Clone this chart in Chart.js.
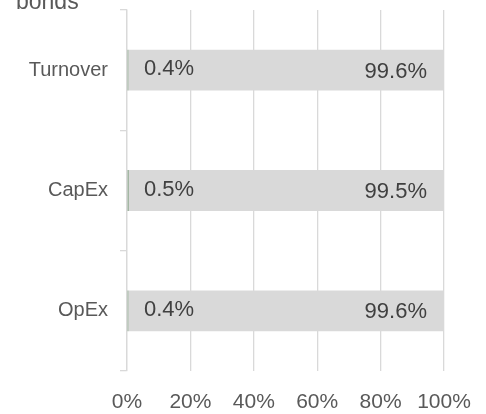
<!DOCTYPE html>
<html>
<head>
<meta charset="utf-8">
<script src="https://cdn.jsdelivr.net/npm/chart.js@4"></script>
<style>
  html, body { margin: 0; padding: 0; background: #fff; overflow: hidden; }
  #wrap { position: relative; width: 486px; height: 414px; }
  #title { position: absolute; left: 16px; top: -15px; font: 23px "Liberation Sans", Arial, sans-serif; color: #595959; line-height: 23px; white-space: nowrap; }
  #title span { font-size: 13px; vertical-align: 8px; }
</style>
</head>
<body>
<div id="wrap">
  <div id="title">bonds<span>*</span></div>
  <canvas id="chart" width="486" height="414"></canvas>
</div>
<script>
// Données
const categories = ['Turnover', 'CapEx', 'OpEx'];
const alignedShare = [0.4, 0.5, 0.4];
const otherShare = [99.6, 99.5, 99.6];
const xTicks = [0, 20, 40, 60, 80, 100];

const fontFamily = '"Liberation Sans", Arial, sans-serif';

// étiquettes de valeur dans les barres
const valueLabels = {
    id: 'valueLabels',
    afterDatasetsDraw(chart) {
        const ctx = chart.ctx;
        const x = chart.scales.x;
        ctx.save();
        ctx.font = '22px ' + fontFamily;
        ctx.fillStyle = '#404040';
        ctx.textBaseline = 'middle';
        chart.getDatasetMeta(0).data.forEach((bar, i) => {
            ctx.textAlign = 'left';
            ctx.fillText(alignedShare[i].toFixed(1) + '%', x.getPixelForValue(0) + 17, bar.y - 1);
        });
        chart.getDatasetMeta(1).data.forEach((bar, i) => {
            ctx.textAlign = 'right';
            ctx.fillText(otherShare[i].toFixed(1) + '%', x.getPixelForValue(100) - 17, bar.y + 1.5);
        });
        ctx.restore();
    }
};

const ctx = document.getElementById('chart').getContext('2d');
new Chart(ctx, {
    type: 'bar',
    data: {
        labels: categories,
        datasets: [
            {
                label: 'Aligned',
                data: alignedShare,
                backgroundColor: '#6f8f6f',
                barPercentage: 1,
                categoryPercentage: 0.34,
            },
            {
                label: 'Not aligned',
                data: otherShare,
                backgroundColor: '#d9d9d9',
                barPercentage: 1,
                categoryPercentage: 0.34,
            },
        ],
    },
    options: {
        indexAxis: 'y',
        responsive: false,
        animation: false,
        layout: { padding: { top: 10, right: 42, left: 0, bottom: 0 } },
        plugins: {
            legend: { display: false },
            tooltip: { enabled: false },
        },
        scales: {
            x: {
                stacked: true,
                min: 0,
                max: 100,
                afterFit: (s) => { s.height = 43; s.paddingLeft = 0; s.paddingRight = 0; },
                afterBuildTicks: (s) => { s.ticks = xTicks.map(v => ({ value: v })); },
                grid: { color: '#d9d9d9', lineWidth: 1.3, drawTicks: false },
                border: { display: false },
                ticks: {
                    padding: 19,
                    color: '#595959',
                    font: { family: fontFamily, size: 21 },
                    callback: (v) => v + '%',
                },
            },
            y: {
                stacked: true,
                afterFit: (s) => { s.width = 127; s.paddingTop = 0; s.paddingBottom = 0; },
                grid: {
                    offset: true,
                    drawOnChartArea: false,
                    drawTicks: true,
                    tickLength: 7,
                    color: '#d9d9d9',
                    lineWidth: 1.3,
                },
                border: { display: true, color: '#d9d9d9', width: 1.3 },
                ticks: {
                    padding: 12,
                    color: '#595959',
                    font: { family: fontFamily, size: 20 },
                },
            },
        },
    },
    plugins: [valueLabels],
});
</script>
</body>
</html>
